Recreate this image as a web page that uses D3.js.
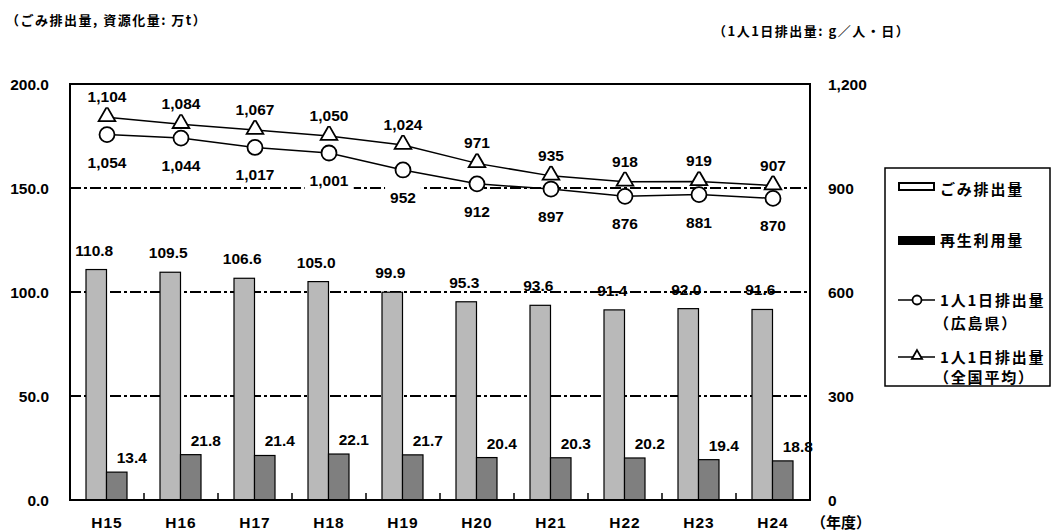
<!DOCTYPE html>
<html><head><meta charset="utf-8">
<script src="https://cdn.jsdelivr.net/npm/d3@7"></script>
<style>
body{margin:0;background:#fff;}
svg{display:block;}
.num{font-family:"Liberation Sans",Arial,sans-serif;font-weight:bold;font-size:15.5px;fill:#000;}
.jp{font-family:"Noto Sans CJK JP",sans-serif;font-weight:bold;fill:#000;}
</style></head><body>
<script>
const categories = ["H15","H16","H17","H18","H19","H20","H21","H22","H23","H24"];
const wasteAmount = [110.8,109.5,106.6,105.0,99.9,95.3,93.6,91.4,92.0,91.6];
const recycleAmount = [13.4,21.8,21.4,22.1,21.7,20.4,20.3,20.2,19.4,18.8];
const perCapitaHiroshima = [1054,1044,1017,1001,952,912,897,876,881,870];
const perCapitaNational = [1104,1084,1067,1050,1024,971,935,918,919,907];
const leftTicks = [0,50,100,150,200];
const rightTicks = [0,300,600,900,1200];
const gridTicks = [50,100,150];

const W=1055,H=531;
const svg=d3.select("body").append("svg").attr("width",W).attr("height",H);
const L=70,R=810,T=84,B=500;
const x=d3.scaleBand().domain(categories).range([L,R]).padding(0);
const inner=d3.scaleBand().domain(["w","r"]).range([0,41]).padding(0);
const yL=d3.scaleLinear().domain([0,200]).range([B,T]);
const yR=d3.scaleLinear().domain([0,1200]).range([B,T]);

// titles
svg.append("text").attr("class","jp").attr("x",6).attr("y",25).style("font-size","13px").style("letter-spacing","1.5px").text("（ごみ排出量, 資源化量: 万t）");
svg.append("text").attr("class","jp").attr("x",713).attr("y",36).style("font-size","13px").style("letter-spacing","1.5px").text("（1人1日排出量: g／人・日）");

// gridlines
svg.append("g").selectAll("line").data(gridTicks).join("line")
  .attr("x1",L).attr("x2",R).attr("y1",d=>yL(d)).attr("y2",d=>yL(d))
  .attr("stroke","#000").attr("stroke-width",2).attr("stroke-dasharray","11,3,3,3");

// bars
const bx=c=>x(c)+x.bandwidth()/2-21;
svg.append("g").selectAll("rect").data(categories).join("rect")
  .attr("x",c=>bx(c)+inner("w")).attr("width",inner.bandwidth())
  .attr("y",(c,i)=>yL(wasteAmount[i])).attr("height",(c,i)=>B-yL(wasteAmount[i]))
  .attr("fill","#b9b9b9").attr("stroke","#000").attr("stroke-width",1.2);
svg.append("g").selectAll("rect").data(categories).join("rect")
  .attr("x",c=>bx(c)+inner("r")).attr("width",inner.bandwidth())
  .attr("y",(c,i)=>yL(recycleAmount[i])).attr("height",(c,i)=>B-yL(recycleAmount[i]))
  .attr("fill","#7f7f7f").attr("stroke","#000").attr("stroke-width",1.2);

// bar labels
svg.append("g").selectAll("text").data(categories).join("text").attr("class","num")
  .attr("text-anchor","middle").attr("x",c=>bx(c)+inner("w")+inner.bandwidth()/2-2)
  .attr("y",(c,i)=>yL(wasteAmount[i])-14).text((c,i)=>wasteAmount[i].toFixed(1));
svg.append("g").selectAll("text").data(categories).join("text").attr("class","num")
  .attr("text-anchor","middle").attr("x",c=>bx(c)+inner("r")+inner.bandwidth()/2+15)
  .attr("y",(c,i)=>yL(recycleAmount[i])-9).text((c,i)=>recycleAmount[i].toFixed(1));

// frame
svg.append("rect").attr("x",L).attr("y",T).attr("width",R-L).attr("height",B-T)
  .attr("fill","none").attr("stroke","#000").attr("stroke-width",2);
// band ticks
svg.append("g").selectAll("line").data(categories.slice(1)).join("line")
  .attr("x1",c=>x(c)).attr("x2",c=>x(c)).attr("y1",B-7).attr("y2",B)
  .attr("stroke","#000").attr("stroke-width",1.5);

// axes
const axL=svg.append("g").attr("transform",`translate(${L},0)`)
  .call(d3.axisLeft(yL).tickValues(leftTicks).tickFormat(d3.format(".1f")).tickSize(0).tickPadding(21));
const axR=svg.append("g").attr("transform",`translate(${R},0)`)
  .call(d3.axisRight(yR).tickValues(rightTicks).tickFormat(d3.format(",")).tickSize(0).tickPadding(18));
const axB=svg.append("g").attr("transform",`translate(0,${B})`)
  .call(d3.axisBottom(x).tickSize(0).tickPadding(17));
[axL,axR,axB].forEach(a=>{a.select(".domain").remove();
  a.selectAll("text").attr("class","num").attr("font-family",null).attr("font-size",null);});
axL.selectAll("text").attr("dy","0.38em");
axR.selectAll("text").attr("dy","0.38em");
axB.selectAll("text").style("letter-spacing","1px");
svg.append("text").attr("class","jp").attr("x",811).attr("y",528).style("font-size","15px").text("（年度）");

// lines
const line=d3.line().x((d,i)=>x(categories[i])+x.bandwidth()/2);
svg.append("path").attr("d",line.y(d=>yR(d))(perCapitaNational)).attr("fill","none").attr("stroke","#000").attr("stroke-width",1.5);
svg.append("path").attr("d",line.y(d=>yR(d))(perCapitaHiroshima)).attr("fill","none").attr("stroke","#000").attr("stroke-width",1.5);
const cx=i=>x(categories[i])+x.bandwidth()/2;
const tri=d3.symbol().type(d3.symbolTriangle).size(120);
svg.append("g").selectAll("path").data(perCapitaNational).join("path")
  .attr("d",tri).attr("transform",(d,i)=>`translate(${cx(i)},${yR(d)-1})`)
  .attr("fill","#fff").attr("stroke","#000").attr("stroke-width",1.8);
svg.append("g").selectAll("circle").data(perCapitaHiroshima).join("circle")
  .attr("cx",(d,i)=>cx(i)).attr("cy",d=>yR(d)).attr("r",7.5)
  .attr("fill","#fff").attr("stroke","#000").attr("stroke-width",1.8);

// line labels with white boxes
function boxedLabels(data,off){
  const g=svg.append("g");
  data.forEach((d,i)=>{
    const t=g.append("text").attr("class","num").attr("text-anchor","middle")
      .attr("x",cx(i)).attr("y",yR(d)+off).text(d3.format(",")(d));
    const b=t.node().getBBox();
    g.insert("rect","text").attr("x",b.x-5).attr("y",b.y-3).attr("width",b.width+10).attr("height",b.height+5).attr("fill","#fff");
  });
}
boxedLabels(perCapitaNational,-15);
boxedLabels(perCapitaHiroshima,33);

// legend
const lg=svg.append("g");
lg.append("rect").attr("x",885).attr("y",168).attr("width",165).attr("height",218).attr("fill","#fff").attr("stroke","#000").attr("stroke-width",1.5);
lg.append("rect").attr("x",899).attr("y",183).attr("width",35).attr("height",7).attr("fill","#fff").attr("stroke","#000").attr("stroke-width",2);
lg.append("rect").attr("x",898).attr("y",236).attr("width",37).attr("height",9).attr("fill","#000");
lg.append("line").attr("x1",898).attr("x2",935).attr("y1",300).attr("y2",300).attr("stroke","#000").attr("stroke-width",1.5);
lg.append("circle").attr("cx",917).attr("cy",300).attr("r",4.5).attr("fill","#fff").attr("stroke","#000").attr("stroke-width",1.8);
lg.append("line").attr("x1",898).attr("x2",935).attr("y1",357).attr("y2",357).attr("stroke","#000").attr("stroke-width",1.5);
lg.append("path").attr("d",d3.symbol().type(d3.symbolTriangle).size(45)).attr("transform","translate(917,356)").attr("fill","#fff").attr("stroke","#000").attr("stroke-width",1.8);
const legendTexts=[["ごみ排出量",195],["再生利用量",246],["1人1日排出量",306],["（広島県）",329],["1人1日排出量",363],["（全国平均）",383]];
lg.selectAll("text").data(legendTexts).join("text").attr("class","jp")
  .attr("x",d=>d[0].startsWith("（")?934:940).attr("y",d=>d[1]).style("font-size","15px").style("letter-spacing","1.8px").text(d=>d[0]);
</script>
</body></html>
